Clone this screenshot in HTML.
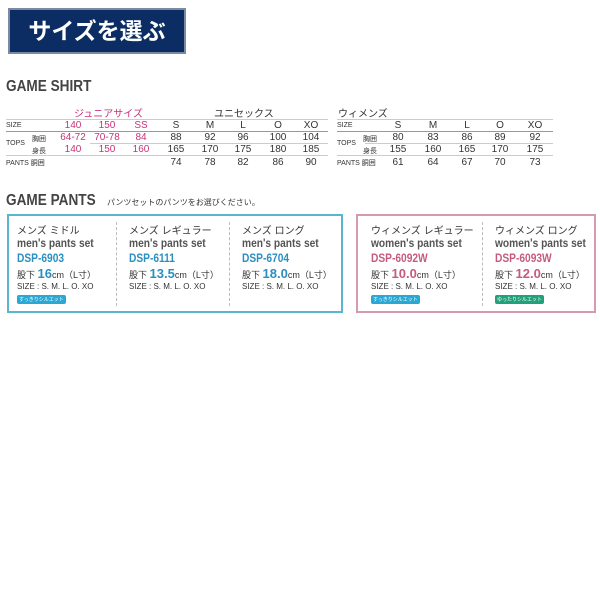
<!DOCTYPE html>
<html><head><meta charset="utf-8"><style>
body{margin:0;width:600px;height:600px;background:#fff;position:relative;overflow:hidden;font-family:"Liberation Sans","Noto Sans CJK JP",sans-serif;color:#333}
.a{position:absolute;white-space:nowrap}
.h{font-weight:bold;font-size:16px;color:#444;transform:scaleX(.85);transform-origin:left}
.c{position:absolute;font-size:10px;transform:translateX(-50%);white-space:nowrap;color:#333}
.p{color:#c8317a}
.l{position:absolute;height:1px;background:#bbb}
.s{font-size:7px;color:#333}
.t{font-size:10px;color:#333}
.e{font-size:12px;font-weight:bold;color:#555;transform:scaleX(.85);transform-origin:left}
.d{font-size:12px;font-weight:bold;transform:scaleX(.85);transform-origin:left}
.badge{position:absolute;font-size:5px;color:#fff;padding:1px 2px;border-radius:2px}
</style></head><body>
<div class="a" style="left:8px;top:8px;width:174px;height:42px;background:#0b2d64;border:2px solid #7c8aa0;color:#fff;font-size:23px;font-weight:bold;text-align:center;line-height:42px">サイズを選ぶ</div>

<div class="a h" style="left:6px;top:78px">GAME SHIRT</div>
<div class="a p" style="left:74px;top:105px;font-size:10px">ジュニアサイズ</div>
<div class="a" style="left:214px;top:105px;font-size:10px">ユニセックス</div>
<div class="l" style="left:6px;top:119px;width:322px;background:#ccc"></div>
<div class="l" style="left:6px;top:131px;width:322px;background:#999"></div>
<div class="l" style="left:90px;top:143px;width:238px;background:#ccc"></div>
<div class="l" style="left:6px;top:155px;width:322px;background:#ccc"></div>
<div class="a s" style="left:6px;top:122px">SIZE</div>
<div class="a s" style="left:6px;top:140px">TOPS</div>
<div class="a s" style="left:32px;top:134px">胸囲</div>
<div class="a s" style="left:32px;top:146px">身長</div>
<div class="a s" style="left:6px;top:158px">PANTS 胴囲</div>
<div class="c p" style="left:73px;top:120px">140</div><div class="c p" style="left:107px;top:120px">150</div><div class="c p" style="left:141px;top:120px">SS</div>
<div class="c" style="left:176px;top:120px">S</div><div class="c" style="left:210px;top:120px">M</div><div class="c" style="left:243px;top:120px">L</div><div class="c" style="left:278px;top:120px">O</div><div class="c" style="left:311px;top:120px">XO</div>
<div class="c p" style="left:73px;top:132px">64-72</div><div class="c p" style="left:107px;top:132px">70-78</div><div class="c p" style="left:141px;top:132px">84</div>
<div class="c" style="left:176px;top:132px">88</div><div class="c" style="left:210px;top:132px">92</div><div class="c" style="left:243px;top:132px">96</div><div class="c" style="left:278px;top:132px">100</div><div class="c" style="left:311px;top:132px">104</div>
<div class="c p" style="left:73px;top:144px">140</div><div class="c p" style="left:107px;top:144px">150</div><div class="c p" style="left:141px;top:144px">160</div>
<div class="c" style="left:176px;top:144px">165</div><div class="c" style="left:210px;top:144px">170</div><div class="c" style="left:243px;top:144px">175</div><div class="c" style="left:278px;top:144px">180</div><div class="c" style="left:311px;top:144px">185</div>
<div class="c" style="left:176px;top:157px">74</div><div class="c" style="left:210px;top:157px">78</div><div class="c" style="left:243px;top:157px">82</div><div class="c" style="left:278px;top:157px">86</div><div class="c" style="left:311px;top:157px">90</div>

<div class="a" style="left:338px;top:105px;font-size:10px">ウィメンズ</div>
<div class="l" style="left:337px;top:119px;width:216px;background:#ccc"></div>
<div class="l" style="left:337px;top:131px;width:216px;background:#999"></div>
<div class="l" style="left:365px;top:143px;width:188px;background:#ccc"></div>
<div class="l" style="left:337px;top:155px;width:216px;background:#ccc"></div>
<div class="a s" style="left:337px;top:122px">SIZE</div>
<div class="a s" style="left:337px;top:140px">TOPS</div>
<div class="a s" style="left:363px;top:134px">胸囲</div>
<div class="a s" style="left:363px;top:146px">身長</div>
<div class="a s" style="left:337px;top:158px">PANTS 胴囲</div>
<div class="c" style="left:398px;top:120px">S</div><div class="c" style="left:433px;top:120px">M</div><div class="c" style="left:467px;top:120px">L</div><div class="c" style="left:500px;top:120px">O</div><div class="c" style="left:535px;top:120px">XO</div>
<div class="c" style="left:398px;top:132px">80</div><div class="c" style="left:433px;top:132px">83</div><div class="c" style="left:467px;top:132px">86</div><div class="c" style="left:500px;top:132px">89</div><div class="c" style="left:535px;top:132px">92</div>
<div class="c" style="left:398px;top:144px">155</div><div class="c" style="left:433px;top:144px">160</div><div class="c" style="left:467px;top:144px">165</div><div class="c" style="left:500px;top:144px">170</div><div class="c" style="left:535px;top:144px">175</div>
<div class="c" style="left:398px;top:157px">61</div><div class="c" style="left:433px;top:157px">64</div><div class="c" style="left:467px;top:157px">67</div><div class="c" style="left:500px;top:157px">70</div><div class="c" style="left:535px;top:157px">73</div>

<div class="a h" style="left:6px;top:192px">GAME PANTS</div>
<div class="a" style="left:107px;top:197px;font-size:8px">パンツセットのパンツをお選びください。</div>

<div class="a" style="left:7px;top:214px;width:332px;height:95px;border:2px solid #5ab4d2"></div>
<div class="a" style="left:116px;top:222px;height:84px;border-left:1px dashed #bbb"></div>
<div class="a" style="left:229px;top:222px;height:84px;border-left:1px dashed #bbb"></div>
<div class="a" style="left:356px;top:214px;width:236px;height:95px;border:2px solid #d59aae"></div>
<div class="a" style="left:482px;top:222px;height:84px;border-left:1px dashed #bbb"></div>

<div class="a t" style="left:17px;top:222px">メンズ ミドル</div>
<div class="a e" style="left:17px;top:236px">men's pants set</div>
<div class="a d" style="left:17px;top:251px;color:#2a8fc0">DSP-6903</div>
<div class="a" style="left:17px;top:266px;font-size:9px">股下 <b style="font-size:13px;color:#2a8fc0">16</b>cm（L寸）</div>
<div class="a" style="left:17px;top:282px;font-size:8px">SIZE : S. M. L. O. XO</div>
<div class="badge" style="left:17px;top:295px;background:#2aa8d4">すっきりシルエット</div>

<div class="a t" style="left:129px;top:222px">メンズ レギュラー</div>
<div class="a e" style="left:129px;top:236px">men's pants set</div>
<div class="a d" style="left:129px;top:251px;color:#2a8fc0">DSP-6111</div>
<div class="a" style="left:129px;top:266px;font-size:9px">股下 <b style="font-size:13px;color:#2a8fc0">13.5</b>cm（L寸）</div>
<div class="a" style="left:129px;top:282px;font-size:8px">SIZE : S. M. L. O. XO</div>

<div class="a t" style="left:242px;top:222px">メンズ ロング</div>
<div class="a e" style="left:242px;top:236px">men's pants set</div>
<div class="a d" style="left:242px;top:251px;color:#2a8fc0">DSP-6704</div>
<div class="a" style="left:242px;top:266px;font-size:9px">股下 <b style="font-size:13px;color:#2a8fc0">18.0</b>cm（L寸）</div>
<div class="a" style="left:242px;top:282px;font-size:8px">SIZE : S. M. L. O. XO</div>

<div class="a t" style="left:371px;top:222px">ウィメンズ レギュラー</div>
<div class="a e" style="left:371px;top:236px">women's pants set</div>
<div class="a d" style="left:371px;top:251px;color:#c65a80">DSP-6092W</div>
<div class="a" style="left:371px;top:266px;font-size:9px">股下 <b style="font-size:13px;color:#c65a80">10.0</b>cm（L寸）</div>
<div class="a" style="left:371px;top:282px;font-size:8px">SIZE : S. M. L. O. XO</div>
<div class="badge" style="left:371px;top:295px;background:#2aa8d4">すっきりシルエット</div>

<div class="a t" style="left:495px;top:222px">ウィメンズ ロング</div>
<div class="a e" style="left:495px;top:236px">women's pants set</div>
<div class="a d" style="left:495px;top:251px;color:#c65a80">DSP-6093W</div>
<div class="a" style="left:495px;top:266px;font-size:9px">股下 <b style="font-size:13px;color:#c65a80">12.0</b>cm（L寸）</div>
<div class="a" style="left:495px;top:282px;font-size:8px">SIZE : S. M. L. O. XO</div>
<div class="badge" style="left:495px;top:295px;background:#22a07a">ゆったりシルエット</div>
</body></html>
